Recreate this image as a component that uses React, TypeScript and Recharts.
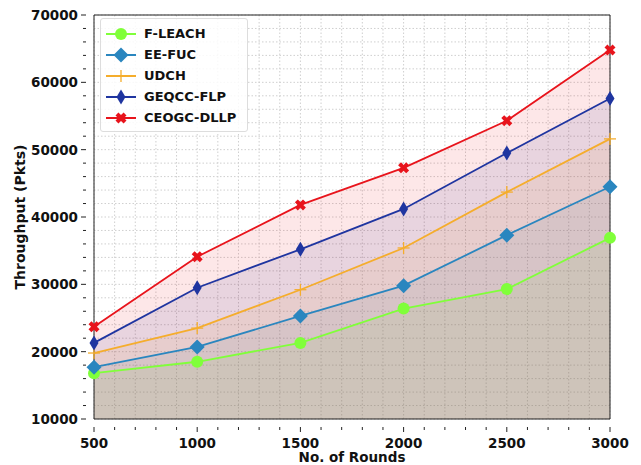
import { ComposedChart, Line, Area, XAxis, YAxis, CartesianGrid, ReferenceLine } from 'recharts'

const rounds = [500, 1000, 1500, 2000, 2500, 3000]
const fLeach = [16800, 18500, 21300, 26400, 29300, 36900]
const eeFuc = [17700, 20700, 25300, 29800, 37300, 44500]
const udch = [19800, 23500, 29200, 35400, 43700, 51600]
const geqccFlp = [21300, 29500, 35200, 41200, 49500, 57600]
const ceogcDllp = [23700, 34100, 41800, 47300, 54300, 64800]

const xTicks = Array.from({ length: 26 }, (_, i) => 500 + i * 100)
const yTicks = Array.from({ length: 31 }, (_, i) => 10000 + i * 2000)

const series = [
  { key: 'fLeach', name: 'F-LEACH', color: '#80ff3a', marker: 'circle', values: fLeach },
  { key: 'eeFuc', name: 'EE-FUC', color: '#2a86bf', marker: 'diamond', values: eeFuc },
  { key: 'udch', name: 'UDCH', color: '#f5ad2c', marker: 'plus', values: udch },
  { key: 'geqccFlp', name: 'GEQCC-FLP', color: '#1f35a0', marker: 'thin', values: geqccFlp },
  { key: 'ceogcDllp', name: 'CEOGC-DLLP', color: '#e8141c', marker: 'x', values: ceogcDllp },
]

const data = rounds.map((r, i) => {
  const row: Record<string, number> = { round: r }
  series.forEach((s) => (row[s.key] = s.values[i]))
  return row
})

const FONT = '"DejaVu Sans", sans-serif'

function Marker({ cx, cy, type, color }: { cx: number; cy: number; type: string; color: string }) {
  if (type === 'circle') return <circle cx={cx} cy={cy} r={6} fill={color} />
  if (type === 'diamond')
    return <polygon points={`${cx},${cy - 7.5} ${cx + 7.5},${cy} ${cx},${cy + 7.5} ${cx - 7.5},${cy}`} fill={color} />
  if (type === 'thin')
    return <polygon points={`${cx},${cy - 7.5} ${cx + 4.5},${cy} ${cx},${cy + 7.5} ${cx - 4.5},${cy}`} fill={color} />
  if (type === 'plus')
    return (
      <g stroke={color} strokeWidth={1.3}>
        <line x1={cx - 6} y1={cy} x2={cx + 6} y2={cy} />
        <line x1={cx} y1={cy - 6} x2={cx} y2={cy + 6} />
      </g>
    )
  // filled "X"
  const a = 5.5
  const w = 2.9
  const p = [
    [-a, -a + w], [-a + w, -a], [0, -w], [a - w, -a], [a, -a + w], [w, 0],
    [a, a - w], [a - w, a], [0, w], [-a + w, a], [-a, a - w], [-w, 0],
  ]
  return <polygon points={p.map(([x, y]) => `${cx + x},${cy + y}`).join(' ')} fill={color} />
}

const majorX = (v: number) => v % 500 === 0
const majorY = (v: number) => v % 10000 === 0

function XTick(props: any) {
  const { x, y, payload } = props
  const major = majorX(payload.value)
  return (
    <g>
      <line x1={x} y1={y} x2={x} y2={y + (major ? 5 : 3)} stroke="#222" />
      {major && (
        <text x={x} y={y + 21} textAnchor="middle" fontFamily={FONT} fontWeight="bold" fontSize={13.5} fill="#111">
          {payload.value}
        </text>
      )}
    </g>
  )
}

function YTick(props: any) {
  const { x, y, payload } = props
  const major = majorY(payload.value)
  return (
    <g>
      <line x1={x} y1={y} x2={x - (major ? 5 : 3)} y2={y} stroke="#222" />
      {major && (
        <text x={x - 8} y={y + 5} textAnchor="end" fontFamily={FONT} fontWeight="bold" fontSize={13.5} fill="#111">
          {payload.value}
        </text>
      )}
    </g>
  )
}

function XLabel({ viewBox }: any) {
  return (
    <text x={viewBox.x + viewBox.width / 2} y={viewBox.y + 43} textAnchor="middle" fontFamily={FONT} fontWeight="bold" fontSize={13.5} fill="#111">
      No. of Rounds
    </text>
  )
}

function YLabel({ viewBox }: any) {
  const cx = viewBox.x + 25
  const cy = viewBox.y + viewBox.height / 2
  return (
    <text x={cx} y={cy} transform={`rotate(-90 ${cx} ${cy})`} textAnchor="middle" fontFamily={FONT} fontWeight="bold" fontSize={14} fill="#111">
      Throughput (Pkts)
    </text>
  )
}

function LegendBox() {
  return (
    <div
      style={{
        position: 'absolute',
        left: 100,
        top: 18,
        width: 148,
        height: 114,
        border: '1px solid #ddd',
        borderRadius: 3,
        background: 'rgba(255,255,255,0.85)',
        fontFamily: FONT,
        fontWeight: 'bold',
        fontSize: 13,
        boxSizing: 'border-box',
        paddingTop: 4,
        whiteSpace: 'nowrap',
      }}
    >
      {series.map((s) => (
        <div key={s.key} style={{ display: 'flex', alignItems: 'center', height: 21 }}>
          <svg width={39} height={18} style={{ marginLeft: 4 }}>
            <line x1={1} y1={9} x2={31} y2={9} stroke={s.color} strokeWidth={2} />
            <Marker cx={16} cy={9} type={s.marker} color={s.color} />
          </svg>
          <span style={{ color: '#111' }}>{s.name}</span>
        </div>
      ))}
    </div>
  )
}

export default function App() {
  return (
    <div style={{ position: 'absolute', left: 0, top: 0, width: 641, height: 465, background: '#fff' }}>
      <ComposedChart width={641} height={465} data={data} margin={{ top: 15, right: 31, bottom: 0, left: 0 }}>
        <CartesianGrid stroke="#cfcfcf" strokeDasharray="1.5 2" />
        <XAxis
          dataKey="round"
          type="number"
          domain={[500, 3000]}
          ticks={xTicks}
          interval={0}
          height={46}
          tick={<XTick />}
          tickLine={false}
          axisLine={{ stroke: '#222' }}
          label={<XLabel />}
        />
        <YAxis
          type="number"
          domain={[10000, 70000]}
          ticks={yTicks}
          interval={0}
          width={94}
          tick={<YTick />}
          tickLine={false}
          axisLine={{ stroke: '#222' }}
          label={<YLabel />}
        />
        {series.map((s) => (
          <Area
            key={'a' + s.key}
            dataKey={s.key}
            type="linear"
            baseValue={10000}
            stroke="none"
            fill={s.color}
            fillOpacity={0.1}
            isAnimationActive={false}
            activeDot={false}
          />
        ))}
        {series.map((s) => (
          <Line
            key={s.key}
            dataKey={s.key}
            name={s.name}
            type="linear"
            stroke={s.color}
            strokeWidth={1.8}
            isAnimationActive={false}
            dot={(p: any) => <Marker key={p.index} cx={p.cx} cy={p.cy} type={s.marker} color={s.color} />}
            activeDot={false}
          />
        ))}
        <ReferenceLine y={70000} stroke="#222" />
        <ReferenceLine x={3000} stroke="#222" />
      </ComposedChart>
      <LegendBox />
    </div>
  )
}
